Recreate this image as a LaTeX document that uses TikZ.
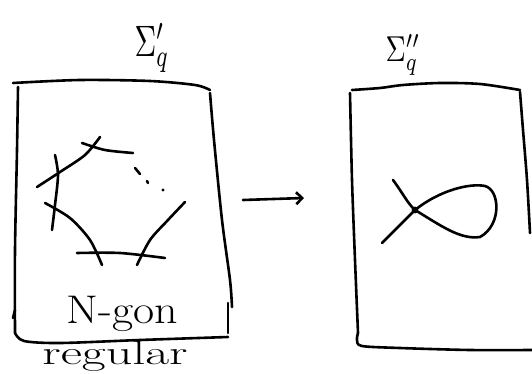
\documentclass[tikz,border=0pt]{standalone}
\usetikzlibrary{arrows.meta}
\begin{document}
\begin{tikzpicture}[x=1pt,y=-1pt,
  pen/.style={line width=2.6pt,line cap=round,line join=round},
  lbl/.style={inner sep=0pt,font=\fontsize{40}{40}\selectfont}]
\useasboundingbox (0,0) rectangle (532,374);
% left box
\draw[pen] plot[smooth] coordinates {(13,83) (80,80) (150,81) (195,85) (210,90)};
\draw[pen] plot[smooth] coordinates {(210,93) (214,140) (222,220) (230,280) (232,307)};
\draw[pen] (228,303) -- (228,333);
\draw[pen] plot[smooth] coordinates {(18,87) (17,150) (15,250) (15,333)};
\draw[pen] (15,310) -- (13,318);
\draw[pen] plot[smooth] coordinates {(15,333) (24,341) (60,343) (140,340) (228,337)};
% N-gon
\draw[pen] plot[smooth] coordinates {(37,187) (60,172) (85,155) (100,137)};
\draw[pen] plot[smooth] coordinates {(82,143) (105,150) (133,153)};
\draw[pen] plot[smooth] coordinates {(55,155) (58,175) (55,205) (52,230)};
\draw[pen] plot[smooth] coordinates {(45,203) (70,218) (90,240) (102,265)};
\draw[pen] plot[smooth] coordinates {(77,253) (120,253) (165,258)};
\draw[pen] plot[smooth] coordinates {(137,265) (150,240) (168,220) (185,202)};
\draw[pen] (135,168) -- (140,174);
\draw[pen] (147,181) -- (148,183);
\fill (163,190) circle (1.6pt);
\node[lbl] (gonlbl) at (122,314) {\scalebox{1.15}[1.0]{N-gon}};
\node[lbl] (reglbl) at (115,356) {\scalebox{1.3}[0.85]{regular}};
\node[inner sep=0pt] (s1) at (152,48) {\scalebox{3}[4.4]{$\Sigma'_q$}};
% arrow
\coordinate (a1) at (243,200);
\coordinate (a2) at (304,198);
\draw[pen,-{Straight Barb[length=6pt,width=12pt]}] (a1) -- (a2);
% right box
\draw[pen] plot[smooth] coordinates {(352,90) (380,88) (403,85) (440,83) (480,84) (520,90)};
\draw[pen] plot[smooth] coordinates {(350,93) (352,180) (355,260) (358,333)};
\draw[pen] plot[smooth] coordinates {(358,333) (357,340) (362,346) (400,348) (470,350) (532,350)};
\draw[pen] plot[smooth] coordinates {(520,92) (523,130) (527,180) (530,233)};
\node[inner sep=0pt] (s2) at (403,55) {\scalebox{2.8}[3.6]{$\Sigma''_q$}};
% fish
\coordinate (nd) at (415,210);
\draw[pen] (393,180) .. controls (402,192) and (408,204) .. (nd);
\draw[pen] (nd) -- (382,243);
\draw[pen] (nd) .. controls (440,190) and (470,183) .. (485,186)
  .. controls (500,190) and (502,225) .. (480,237)
  .. controls (460,240) and (440,225) .. (nd);
\fill (nd) circle (3.4pt);
\end{tikzpicture}
\end{document}
